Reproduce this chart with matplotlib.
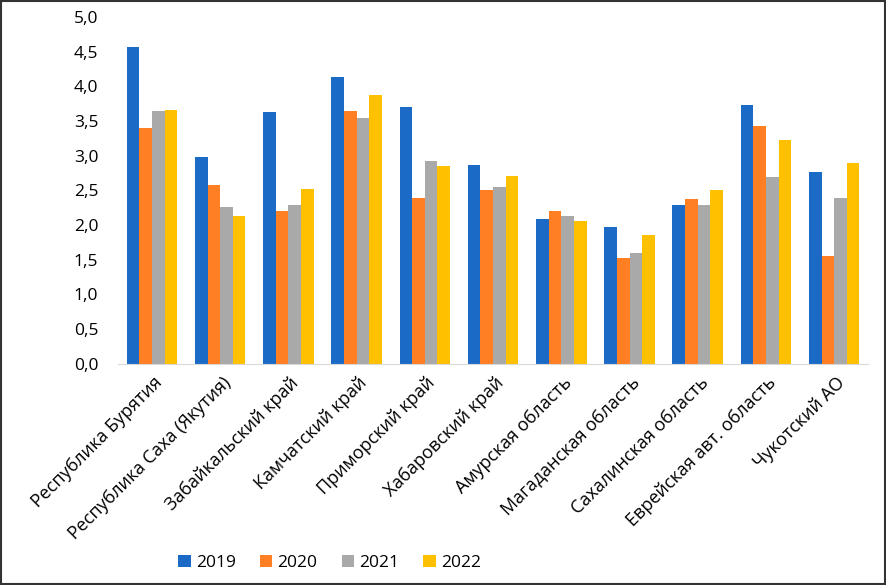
import matplotlib
matplotlib.use("Agg")
import matplotlib.pyplot as plt
import numpy as np
from matplotlib.patches import Rectangle
from matplotlib.ticker import FuncFormatter

plt.rcParams["font.family"] = ["Open Sans", "DejaVu Sans"]

regions = [
    "Республика Бурятия",
    "Республика Саха (Якутия)",
    "Забайкальский край",
    "Камчатский край",
    "Приморский край",
    "Хабаровский край",
    "Амурская область",
    "Магаданская область",
    "Сахалинская область",
    "Еврейская авт. область",
    "Чукотский АО",
]
years = ["2019", "2020", "2021", "2022"]
v2019 = [4.57, 2.98, 3.63, 4.14, 3.70, 2.87, 2.09, 1.97, 2.29, 3.73, 2.77]
v2020 = [3.40, 2.58, 2.20, 3.65, 2.39, 2.51, 2.20, 1.53, 2.38, 3.43, 1.56]
v2021 = [3.65, 2.26, 2.29, 3.54, 2.93, 2.55, 2.13, 1.60, 2.29, 2.69, 2.39]
v2022 = [3.66, 2.13, 2.52, 3.88, 2.85, 2.71, 2.06, 1.86, 2.51, 3.23, 2.90]
series = [v2019, v2020, v2021, v2022]
colors = ["#1A6AC6", "#FF7F22", "#A9A9A9", "#FFC000"]

fig = plt.figure(figsize=(8.86, 5.85), dpi=100)
ax = fig.add_axes([0.133, 0.378, 0.847, 0.593])

x = np.arange(len(regions))
w = 0.185
for i, (vals, c, lab) in enumerate(zip(series, colors, years)):
    ax.bar(x + (i - 1.5) * w, vals, width=w, color=c, label=lab)

ax.set_xlim(-0.5, len(regions) - 0.5)
ax.set_ylim(0, 5.0)
ax.set_yticks(np.arange(0, 5.01, 0.5))
ax.yaxis.set_major_formatter(FuncFormatter(lambda v, p: f"{v:.1f}".replace(".", ",")))
ax.tick_params(axis="y", length=0, pad=14, labelsize=12.5)
ax.tick_params(axis="x", length=0, pad=7)
ax.set_xticks(x + 0.02)
ax.set_xticklabels(regions, rotation=45, ha="right", va="top",
                   rotation_mode="anchor", fontsize=13)

for s in ["top", "right", "left"]:
    ax.spines[s].set_visible(False)
ax.spines["bottom"].set_color("#D9D9D9")

fig.legend(loc="center", bbox_to_anchor=(0.372, 0.038), ncol=4, frameon=False,
           fontsize=12.5, handlelength=0.7, handleheight=0.7, handletextpad=0.3,
           columnspacing=1.4)

fig.add_artist(Rectangle((0.001, 0.001), 0.998, 0.998, transform=fig.transFigure,
                         fill=False, edgecolor="#333333", linewidth=1.5))

fig.savefig("out.png", dpi=100)
